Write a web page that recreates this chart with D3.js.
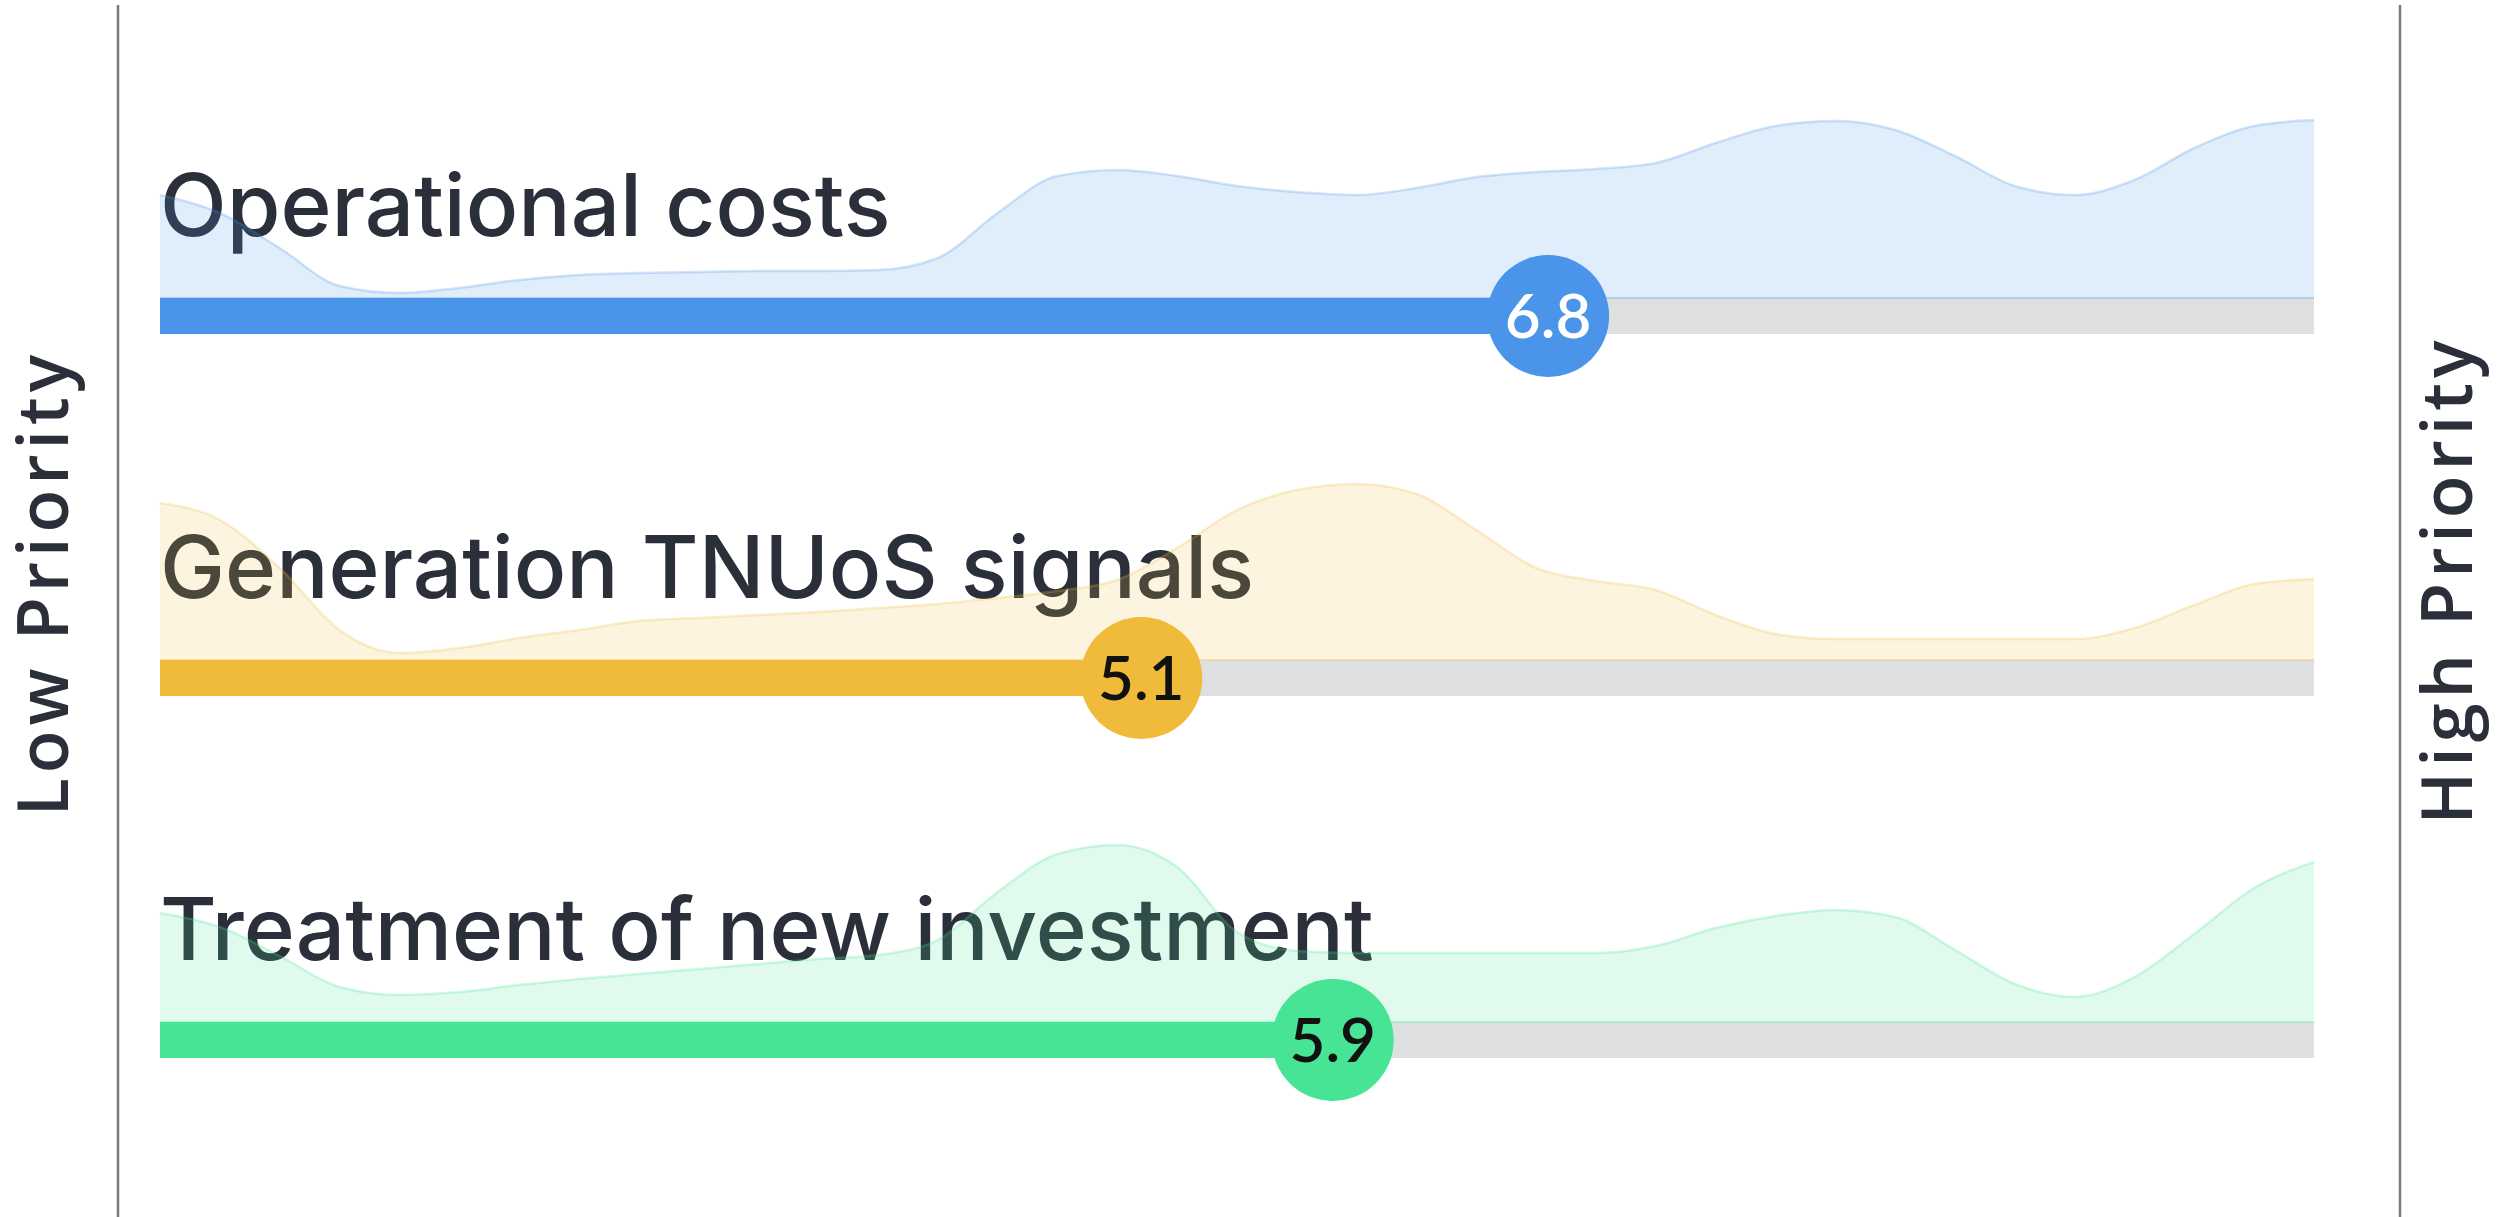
<!DOCTYPE html>
<html>
<head>
<meta charset="utf-8">
<script src="https://cdn.jsdelivr.net/npm/d3@7"></script>
<style>
  body { margin: 0; background: #ffffff; }
</style>
</head>
<body>
<svg id="chart"></svg>
<script>
// priority scores, one row per topic
var categories = ["Operational costs", "Generation TNUoS signals", "Treatment of new investment"];
var scores = [6.8, 5.1, 5.9];
var colors = ["#4A94E9", "#F0BB3B", "#46E494"];
var scoreTextColors = ["#ffffff", "#111111", "#111111"];

// distribution of answers, sampled every quarter point from 1 to 10
var densitySteps = [1, 1.25, 1.5, 1.75, 2, 2.25, 2.5, 2.75, 3, 3.25, 3.5, 3.75, 4, 4.25, 4.5, 4.75, 5, 5.25, 5.5,
  5.75, 6, 6.25, 6.5, 6.75, 7, 7.25, 7.5, 7.75, 8, 8.25, 8.5, 8.75, 9, 9.25, 9.5, 9.75, 10];
var densityOperational = [103, 85, 50, 12, 5, 10, 18, 23, 25, 26, 27, 27, 28, 40, 85, 122, 128, 122, 112,
  106, 103, 110, 121, 126, 129, 135, 155, 172, 177, 168, 142, 112, 103, 118, 150, 172, 178];
var densityGeneration = [157, 140, 92, 30, 7, 12, 22, 30, 39, 42, 45, 48, 52, 56, 62, 69, 80, 112, 150,
  170, 176, 166, 130, 92, 79, 70, 45, 26, 21, 21, 21, 21, 21, 32, 55, 76, 81];
var densityInvestment = [109, 95, 66, 35, 27, 30, 37, 43, 48, 53, 58, 63, 67, 82, 130, 168, 177, 155, 90,
  71, 69, 69, 69, 69, 69, 76, 94, 106, 112, 105, 72, 38, 25, 45, 88, 134, 160];
var densities = [densityOperational, densityGeneration, densityInvestment];

var sideLabels = ["Low Priority", "High Priority"];

var width = 2504
var height = 1217
var barHeight = 36
var radius = 61

var svg = d3.select("#chart")
  .attr("width", width)
  .attr("height", height);

var xScale = d3.scaleLinear()
  .domain([1, 10])
  .range([160, 2314]);

var rowScale = d3.scalePoint()
  .domain(categories)
  .range([316, 1040]);

// height of the distribution above the bar
var densityScale = d3.scaleLinear()
  .domain([0, 180])
  .range([0, 180]);

// frame lines left and right
svg.selectAll(".frame")
  .data([118, 2400])
  .enter()
  .append("line")
  .attr("class", "frame")
  .attr("x1", function(d){ return d; })
  .attr("x2", function(d){ return d; })
  .attr("y1", 5)
  .attr("y2", height)
  .attr("stroke", "#7a7a7a")
  .attr("stroke-width", 2.5);

svg.selectAll(".side")
  .data(sideLabels)
  .enter()
  .append("text")
  .attr("class", "side")
  .attr("transform", function(d, i){
    return i == 0 ? "translate(68,583) rotate(-90)" : "translate(2472,580) rotate(-90)";
  })
  .attr("text-anchor", "middle")
  .style("font-family", "'Open Sans', sans-serif")
  .style("font-weight", 600)
  .style("font-size", "70px")
  .style("letter-spacing", "5px")
  .style("fill", "#2B2F3A")
  .text(function(d){ return d; });

categories.forEach(function(cat, i){
  var cy = rowScale(cat);
  var base = cy - barHeight / 2;

  var g = svg.append("g").attr("class", "row");

  // label sits under the distribution
  g.append("text")
    .attr("x", xScale(1))
    .attr("y", cy - 80)
    .style("font-family", "Inter, sans-serif")
    .style("font-weight", 500)
    .style("font-size", "87px")
    .style("fill", "#2B2F3A")
    .text(cat);

  var pts = densitySteps.map(function(s, j){ return {s: s, v: densities[i][j]}; });

  var area = d3.area()
    .x(function(d){ return xScale(d.s); })
    .y0(base)
    .y1(function(d){ return base - densityScale(d.v); })
    .curve(d3.curveMonotoneX);

  var line = d3.line()
    .x(function(d){ return xScale(d.s); })
    .y(function(d){ return base - densityScale(d.v); })
    .curve(d3.curveMonotoneX);

  g.append("path")
    .datum(pts)
    .attr("d", area)
    .attr("fill", colors[i])
    .attr("fill-opacity", 0.17);

  g.append("path")
    .datum(pts)
    .attr("d", line)
    .attr("fill", "none")
    .attr("stroke", colors[i])
    .attr("stroke-opacity", 0.25)
    .attr("stroke-width", 2.5);

  // grey track then coloured part
  g.append("rect")
    .attr("x", xScale(1))
    .attr("y", base)
    .attr("width", xScale(10) - xScale(1))
    .attr("height", barHeight)
    .attr("fill", "#DEDFE1");

  g.append("rect")
    .attr("x", xScale(1))
    .attr("y", base)
    .attr("width", xScale(scores[i]) - xScale(1))
    .attr("height", barHeight)
    .attr("fill", colors[i]);

  g.append("line")
    .attr("x1", xScale(1))
    .attr("x2", xScale(10))
    .attr("y1", base)
    .attr("y2", base)
    .attr("stroke", colors[i])
    .attr("stroke-opacity", 0.3)
    .attr("stroke-width", 2);

  g.append("circle")
    .attr("cx", xScale(scores[i]))
    .attr("cy", cy)
    .attr("r", radius)
    .attr("fill", colors[i]);

  g.append("text")
    .attr("x", xScale(scores[i]))
    .attr("y", cy)
    .attr("dy", "0.35em")
    .attr("text-anchor", "middle")
    .style("font-family", "Lato, sans-serif")
    .style("font-weight", 600)
    .style("font-size", "62px")
    .style("fill", scoreTextColors[i])
    .text(scores[i].toFixed(1));
});
</script>
</body>
</html>
